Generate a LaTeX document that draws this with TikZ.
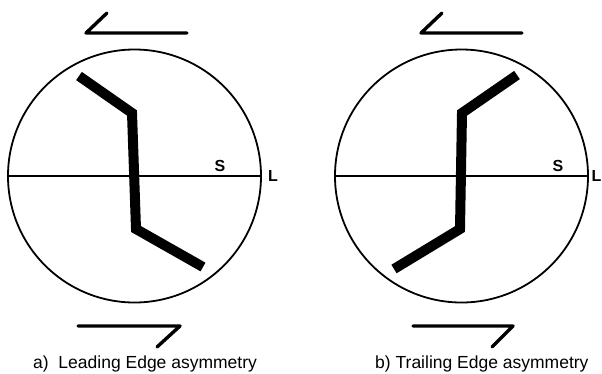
\documentclass[tikz,border=0pt]{standalone}
\usepackage{fontspec}
\setmainfont{Liberation Sans}
\usetikzlibrary{positioning}
\tikzset{
  disc/.style={
    draw, circle, line width=1.8pt, inner sep=0pt, minimum size=253pt
  },
  axisline/.style={line width=1.6pt},
  fault/.style={line width=10pt, line join=miter, line cap=butt},
  shear/.style={line width=3.4pt, line cap=round, line join=round},
  tag/.style={font=\fontsize{16}{18}\selectfont\bfseries, inner sep=0pt},
  caption/.style={font=\fontsize{17.5}{20}\selectfont, anchor=base west, inner sep=0pt}
}

\begin{document}
\begin{tikzpicture}[x=1pt, y=-1pt]
  \useasboundingbox (0,0) rectangle (602,373);

  % a) leading edge
  \node[disc] (ca) at (134.5,176) {};
  \draw[axisline] (ca.west) -- (ca.east);
  \node[tag] (sa) at (220,166) {S};
  \node[tag, right=6pt of ca.east] (la) {L};
  \draw[fault] (79,76) -- (132,113) -- (136,229) -- (203,267);
  \draw[shear] (107,13) -- (86,33) -- (187,33);
  \draw[shear] (78,326) -- (180,326) -- (157,347);
  \node[caption] (capa) at (33,368) {a)\ \ Leading Edge asymmetry};

  % b) trailing edge
  \node[disc] (cb) at (461.5,176) {};
  \draw[axisline] (cb.west) -- (cb.east);
  \node[tag] (sb) at (558,166) {S};
  \node[tag, right=2.5pt of cb.east] (lb) {L};
  \draw[fault] (394,269) -- (460,229) -- (462,113) -- (517,75);
  \draw[shear] (442,13) -- (421,33) -- (522,33);
  \draw[shear] (413,326) -- (513,326) -- (492,347);
  \node[caption] (capb) at (375,368) {b) Trailing Edge asymmetry};
\end{tikzpicture}
\end{document}
